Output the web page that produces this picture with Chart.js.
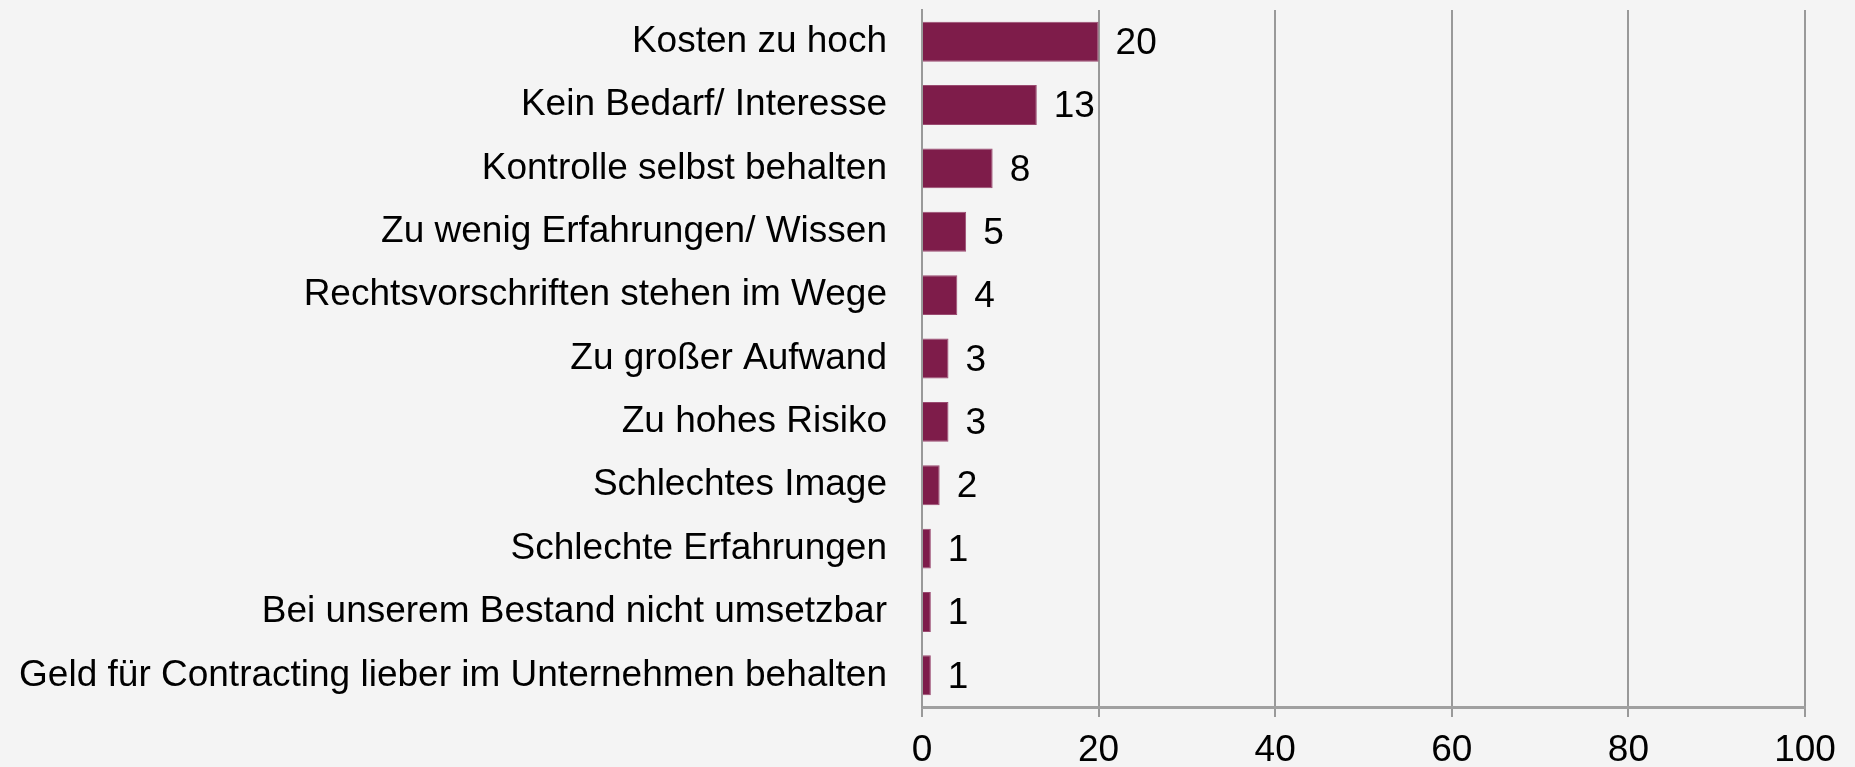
<!DOCTYPE html>
<html>
<head>
<meta charset="utf-8">
<script src="https://cdn.jsdelivr.net/npm/chart.js@4/dist/chart.umd.min.js"></script>
<style>
    html, body { margin: 0; padding: 0; background: #f4f4f4; }
    #wrap { width: 1855px; height: 767px; }
</style>
</head>
<body>
<div id="wrap"><canvas id="myChart" width="1855" height="767"></canvas></div>
<script>
const categories = [
    'Kosten zu hoch',
    'Kein Bedarf/ Interesse',
    'Kontrolle selbst behalten',
    'Zu wenig Erfahrungen/ Wissen',
    'Rechtsvorschriften stehen im Wege',
    'Zu großer Aufwand',
    'Zu hohes Risiko',
    'Schlechtes Image',
    'Schlechte Erfahrungen',
    'Bei unserem Bestand nicht umsetzbar',
    'Geld für Contracting lieber im Unternehmen behalten'
];
const values = [20, 13, 8, 5, 4, 3, 3, 2, 1, 1, 1];
const tickValues = [0, 20, 40, 60, 80, 100];

const fontFamily = '"Liberation Sans", Arial, sans-serif';

// draws the number right of each bar
const valueLabels = {
    id: 'valueLabels',
    afterDatasetsDraw(chart) {
        const ctx = chart.ctx;
        const meta = chart.getDatasetMeta(0);
        ctx.save();
        ctx.font = '37px ' + fontFamily;
        ctx.fillStyle = '#000';
        ctx.textAlign = 'left';
        ctx.textBaseline = 'middle';
        meta.data.forEach((bar, i) => {
            ctx.fillText(String(values[i]), bar.x + 17, bar.y + 2);
        });
        ctx.restore();
    }
};

const ctx = document.getElementById('myChart').getContext('2d');
const myChart = new Chart(ctx, {
    type: 'bar',
    data: {
        labels: categories,
        datasets: [{
            data: values,
            backgroundColor: '#7e1c4a',
            borderColor: '#9a4a70',
            borderWidth: 1,
            borderSkipped: 'left',
            barPercentage: 0.63,
            categoryPercentage: 1
        }]
    },
    plugins: [valueLabels],
    options: {
        indexAxis: 'y',
        responsive: false,
        animation: false,
        layout: { padding: { top: 10, right: 50, left: 0, bottom: 0 } },
        plugins: {
            legend: { display: false },
            tooltip: { enabled: false }
        },
        scales: {
            x: {
                min: 0,
                max: 100,
                afterBuildTicks(scale) {
                    scale.ticks = tickValues.map(v => ({ value: v }));
                },
                afterFit(scale) {
                    scale.height = 60;
                    scale.paddingLeft = 0;
                    scale.paddingRight = 0;
                },
                grid: {
                    color: '#999',
                    lineWidth: 2,
                    drawTicks: true,
                    tickLength: 10
                },
                border: { display: true, color: '#a0a0a0', width: 3 },
                ticks: {
                    color: '#000',
                    padding: 12,
                    font: { family: fontFamily, size: 37 }
                }
            },
            y: {
                afterFit(scale) {
                    scale.width = 922;
                    scale.paddingTop = 0;
                    scale.paddingBottom = 0;
                },
                grid: { display: false, drawTicks: false },
                border: { display: true, color: '#999', width: 2 },
                ticks: {
                    color: '#000',
                    padding: 35,
                    font: { family: fontFamily, size: 37 }
                }
            }
        }
    }
});
</script>
</body>
</html>
